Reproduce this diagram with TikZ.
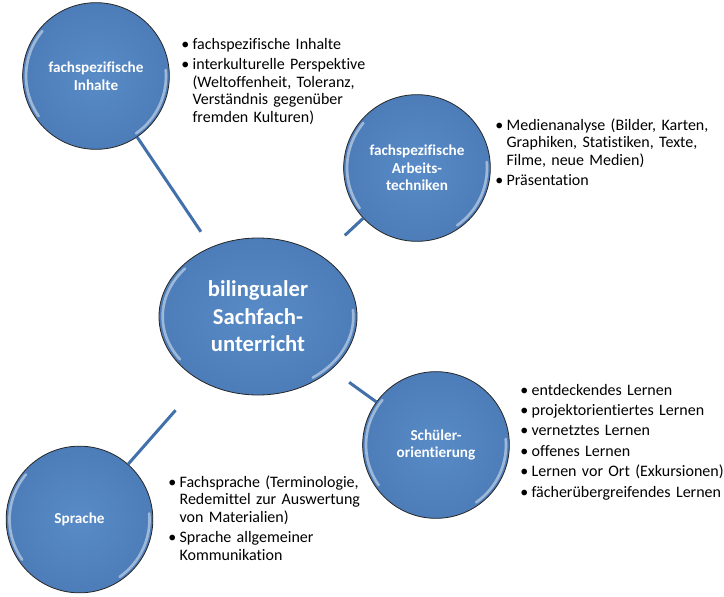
\documentclass[tikz,border=0pt]{standalone}
\usepackage{fontspec}
\setmainfont[Ligatures=NoCommon]{Carlito}
\usetikzlibrary{shapes.geometric}

\definecolor{balllight}{RGB}{88,139,199}
\definecolor{balldark}{RGB}{77,125,185}
\definecolor{linkblue}{RGB}{66,112,170}

% one bullet item with hanging indent
\newcommand\li[1]{\par\noindent\hangindent=8.5pt\hangafter=1%
  \makebox[8.5pt][l]{\textbullet}#1\par\vspace{2pt}}

\begin{document}
\begin{tikzpicture}[x=0.75pt, y=-0.75pt,
    ball/.style={circle, draw=black!85, line width=0.6pt, shade,
                 inner color=balllight, outer color=balldark,
                 minimum size=110pt, inner sep=0pt, text=white, align=center,
                 font=\fontsize{11.4}{13.1}\selectfont\bfseries},
    hub/.style={ball, ellipse, minimum width=148.5pt, minimum height=117.75pt,
                font=\fontsize{17}{20.6}\selectfont\bfseries},
    list/.style={anchor=north west, inner sep=0pt, text width=190pt,
                 align=left, font=\fontsize{12}{13.3}\selectfont},
    link/.style={draw=linkblue, line width=2.25pt},
    gloss/.style={white, opacity=0.45, line width=2pt, line cap=round}
]
  \path[use as bounding box, fill=white] (0,0) rectangle (724,596);

  % Centre
  \node[hub] (bili) at (258,316.5) {bilingualer\\Sachfach-\\unterricht};

  % Outer circles
  \node[ball] (inh)   at (96,76)      {fachspezifische\\Inhalte};
  \node[ball] (tech)  at (417,168)    {fachspezifische\\Arbeits-\\techniken};
  \node[ball] (pupil) at (436,445)    {Schüler-\\orientierung};
  \node[ball] (lang)  at (79.5,519.5) {Sprache};

  % Glossy rims
  \foreach \n in {inh,tech,pupil,lang}{
    \draw[gloss] (\n.center) ++(140:52.5pt) arc[start angle=140, end angle=215, radius=52.5pt];
    \draw[gloss] (\n.center) ++(-55:52.5pt) arc[start angle=-55, end angle=5, radius=52.5pt];
  }
  \draw[gloss] (bili.center) ++({71.5pt*cos(140)},{56pt*sin(140)})
    arc[start angle=140, end angle=215, x radius=71.5pt, y radius=56pt];
  \draw[gloss] (bili.center) ++({71.5pt*cos(-55)},{56pt*sin(-55)})
    arc[start angle=-55, end angle=5, x radius=71.5pt, y radius=56pt];

  % Connectors
  \draw[link, shorten >=13.7pt] (inh) -- (bili);
  \draw[link, shorten >=23pt]   (tech) -- (bili);
  \draw[link, shorten <=16.3pt] (bili) -- (pupil);
  \draw[link, shorten >=29pt]   (lang) -- (bili);

  % Lists
  \node[list] (inhlist) at (181,31) {%
    \li{fachspezifische Inhalte}%
    \li{interkulturelle Perspektive\newline (Weltoffenheit, Toleranz,\newline
        Verständnis gegenüber\newline fremden Kulturen)}};
  \node[list] (techlist) at (495,112) {%
    \li{Medienanalyse (Bilder, Karten,\newline Graphiken, Statistiken, Texte,\newline
        Filme, neue Medien)}%
    \li{Präsentation}};
  \node[list] (pupillist) at (520,377) {%
    \li{entdeckendes Lernen}%
    \li{projektorientiertes Lernen}%
    \li{vernetztes Lernen}%
    \li{offenes Lernen}%
    \li{Lernen vor Ort (Exkursionen)}%
    \li{fächerübergreifendes Lernen}};
  \node[list] (langlist) at (168,469) {%
    \li{Fachsprache (Terminologie,\newline Redemittel zur Auswertung\newline
        von Materialien)}%
    \li{Sprache allgemeiner\newline Kommunikation}};
\end{tikzpicture}
\end{document}
